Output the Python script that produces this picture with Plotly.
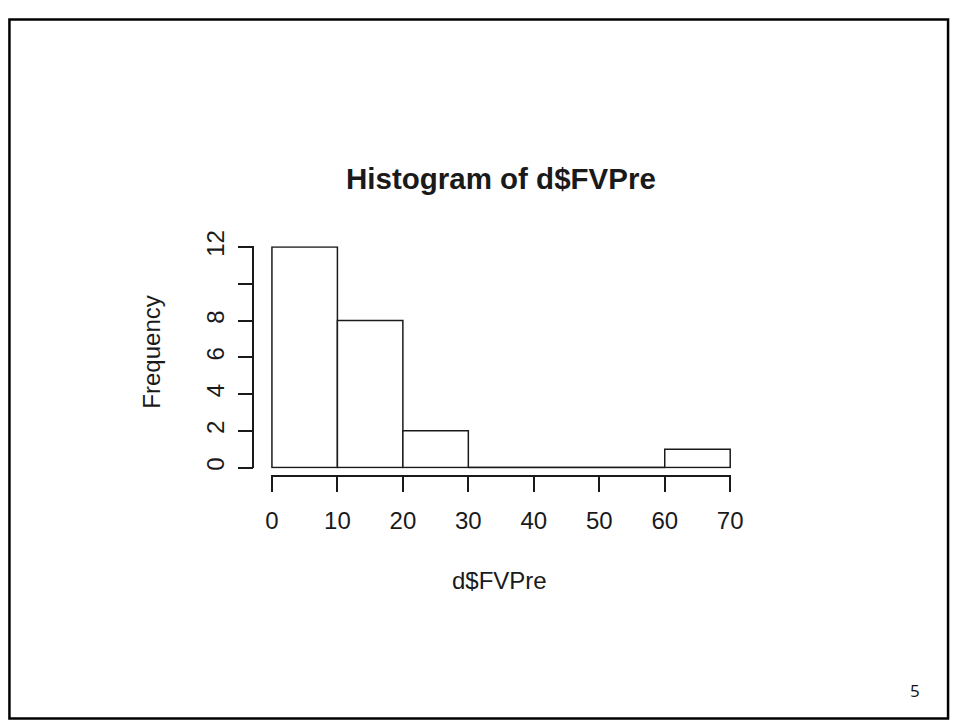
import plotly.graph_objects as go

# Histogram of d$FVPre: bin edges and counts
bin_edges = [0, 10, 20, 30, 40, 50, 60, 70]
counts = [12, 8, 2, 0, 0, 0, 1]

x_ticks = [0, 10, 20, 30, 40, 50, 60, 70]
y_ticks = [0, 2, 4, 6, 8, 10, 12]
y_tick_text = ["0", "2", "4", "6", "8", "", "12"]

W, H = 963, 724
FONT = "Liberation Sans, Arial, sans-serif"
INK = "#1a1a1a"


def px(x):
    return x / W


def py(y):
    return 1 - y / H


centers = [(a + b) / 2 for a, b in zip(bin_edges[:-1], bin_edges[1:])]
widths = [b - a for a, b in zip(bin_edges[:-1], bin_edges[1:])]

# empty bins are drawn as flat segments on the baseline
zx, zy = [], []
for a, b, c in zip(bin_edges[:-1], bin_edges[1:], counts):
    if c == 0:
        zx += [a, b, None]
        zy += [0, 0, None]

fig = go.Figure()
fig.add_trace(go.Bar(
    x=centers, y=counts, width=widths,
    marker=dict(color="white", line=dict(color=INK, width=1.5)),
    hoverinfo="x+y", showlegend=False,
))
fig.add_trace(go.Scatter(
    x=zx, y=zy, mode="lines", line=dict(color=INK, width=1.5),
    hoverinfo="skip", showlegend=False,
))

fig.update_layout(
    width=W, height=H,
    margin=dict(l=0, r=0, t=0, b=0),
    paper_bgcolor="white", plot_bgcolor="white",
    font=dict(family=FONT, color=INK, size=24),
    xaxis=dict(
        domain=[px(270), px(739)], range=[-0.15, 70.15],
        anchor="free", position=py(472),
        showgrid=False, zeroline=False,
        showline=True, linecolor=INK, linewidth=1.5,
        ticks="outside", ticklen=15, tickwidth=1.5, tickcolor=INK,
        tickvals=x_ticks, ticktext=[str(v) for v in x_ticks],
        tickfont=dict(size=24), ticklabelstandoff=8,
    ),
    yaxis=dict(
        domain=[py(464), py(236)], range=[-0.05, 12.05],
        anchor="free", position=px(252),
        showgrid=False, zeroline=False,
        showline=True, linecolor=INK, linewidth=1.5,
        ticks="outside", ticklen=15, tickwidth=1.5, tickcolor=INK,
        tickvals=y_ticks, ticktext=y_tick_text, tickangle=-90,
        tickfont=dict(size=24), ticklabelstandoff=4,
    ),
    annotations=[
        dict(text="<b>Histogram of d$FVPre</b>", x=px(504), y=py(167),
             xref="paper", yref="paper", showarrow=False,
             xanchor="center", yanchor="middle", font=dict(size=29.5)),
        dict(text="d$FVPre", x=px(503), y=py(579),
             xref="paper", yref="paper", showarrow=False,
             xanchor="center", yanchor="middle", font=dict(size=24)),
        dict(text="Frequency", x=px(148), y=py(345), textangle=-90,
             xref="paper", yref="paper", showarrow=False,
             xanchor="center", yanchor="middle", font=dict(size=24)),
        dict(text="5", x=px(926), y=py(692),
             xref="paper", yref="paper", showarrow=False,
             xanchor="center", yanchor="middle",
             font=dict(size=17, family="Open Sans, sans-serif", color="#111")),
    ],
    shapes=[
        dict(type="rect", xref="paper", yref="paper",
             x0=px(3.5), x1=px(960), y0=py(720.5), y1=py(3.5),
             line=dict(color="black", width=2.5), fillcolor="rgba(0,0,0,0)"),
    ],
)

fig.write_html("out.html")
